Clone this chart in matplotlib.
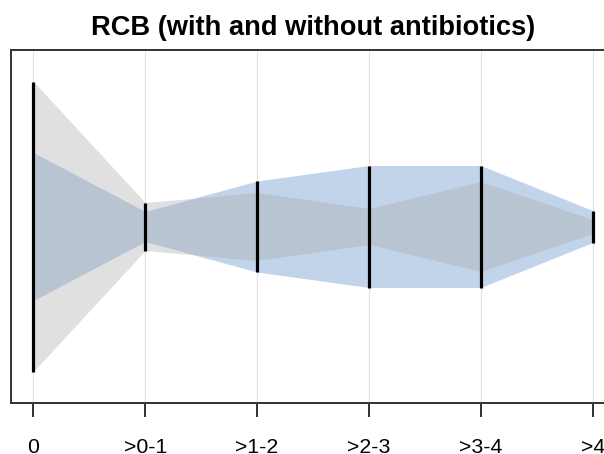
import numpy as np
import matplotlib.pyplot as plt

# RCB categories and half-widths of the two violin-like bands
categories = ['0', '>0-1', '>1-2', '>2-3', '>3-4', '>4']
without_abx = [145, 24, 34, 18, 45, 7]     # grey band
with_abx = [74, 15, 45.5, 61, 61, 16]      # blue band

plt.rcParams['font.family'] = ['Liberation Sans', 'DejaVu Sans']

x = np.arange(len(categories))
g = np.array(without_abx)
b = np.array(with_abx)
span = np.maximum(g, b)

fig = plt.figure(figsize=(6.04, 4.54), dpi=100)
W, H = 604., 454.
ax = fig.add_axes([11 / W, 51 / H, (615 - 11) / W, (403 - 50) / H])

for xi in x:
    ax.axvline(xi, color='#e4e4e4', lw=0.9, zorder=0)

ax.fill_between(x, -b, b, color='#c1d4ea', lw=0, zorder=1)
ax.fill_between(x, -g, g, color='#ababab', alpha=0.37, lw=0, zorder=2)
ax.vlines(x, -span, span, color='black', lw=2.3, zorder=3)

ax.set_xlim(-0.2, 5.2)
ax.set_ylim(176.5, -176.5)
ax.set_yticks([])
ax.set_xticks(x)
ax.set_xticklabels(categories, fontsize=15.3)
ax.tick_params(axis='x', length=10, width=1.3, pad=15.5, color='#222222')
for s in ax.spines.values():
    s.set_color('#333333')
    s.set_linewidth(1.4)

fig.text(313 / W, 1 - 35 / H, 'RCB (with and without antibiotics)',
         ha='center', va='baseline', fontsize=19.6, fontweight='bold')

fig.savefig('out.png', dpi=100)
